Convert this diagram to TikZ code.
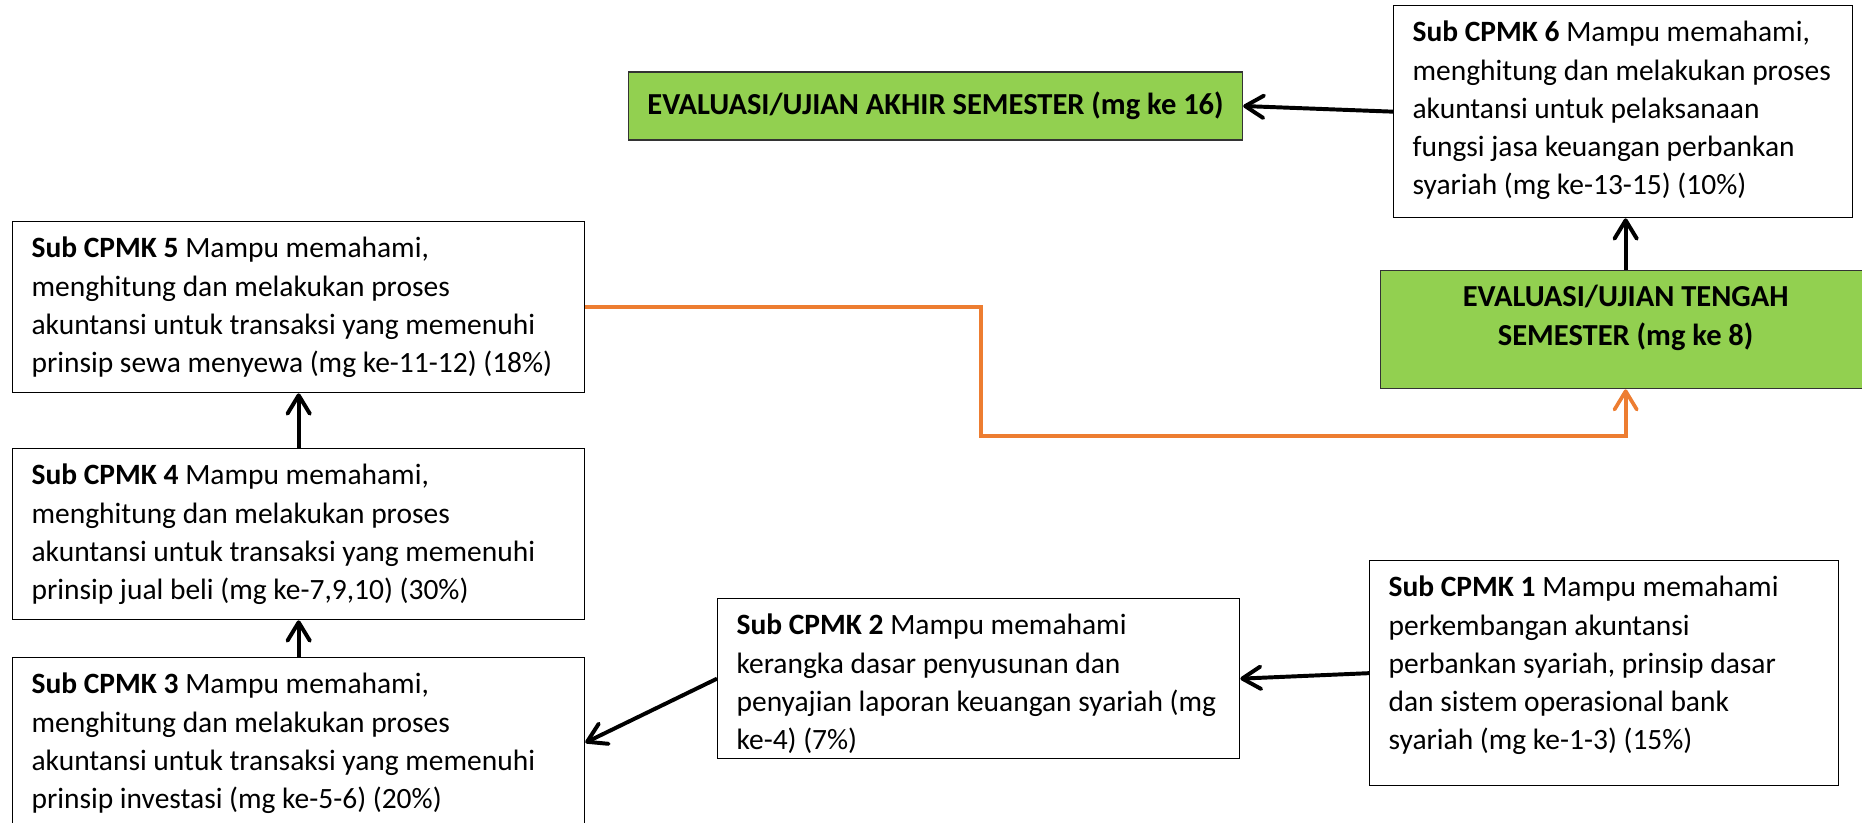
\documentclass[tikz,border=0pt]{standalone}
\usepackage{fontspec}
\setmainfont{Carlito}
\usetikzlibrary{arrows.meta}
\definecolor{ujiangreen}{RGB}{146,208,80}
\definecolor{utsorange}{RGB}{237,125,49}
\newlength\pxunit
\setlength\pxunit{0.38pt}
\newcommand{\boxtext}[4][\raggedright]{%
  \begin{minipage}[t][\dimexpr#3\pxunit-7.2pt\relax][t]{\dimexpr#2\pxunit-14.4pt\relax}#1\strut#4\end{minipage}}
\tikzset{
  cpmk/.style={draw, line width=0.5pt, anchor=north west, inner xsep=7.2pt, inner ysep=3.6pt,
    font=\fontsize{11.2}{14.5}\selectfont},
  ujian/.style={cpmk, fill=ujiangreen, draw=black!80, font=\fontsize{11.6}{14.5}\selectfont\bfseries},
  flow/.style={line width=1.5pt, -{Straight Barb[length=7pt,width=8.5pt,round]}}
}
\begin{document}
\begin{tikzpicture}[x=0.38pt, y=-0.38pt]
  \useasboundingbox (0,0) rectangle (1862,822);

  \node[cpmk] (cpmk1) at (1369,560) {\boxtext{469}{225}{\textbf{Sub CPMK 1} Mampu memahami\\
    perkembangan akuntansi\\ perbankan syariah, prinsip dasar\\ dan sistem operasional bank\\
    syariah (mg ke-1-3) (15\%)}};
  \node[cpmk] (cpmk2) at (717,598) {\boxtext{522}{160}{\textbf{Sub CPMK 2} Mampu memahami\\
    kerangka dasar penyusunan dan\\ penyajian laporan keuangan syariah (mg\\ ke-4) (7\%)}};
  \node[cpmk] (cpmk3) at (12,657) {\boxtext{572}{170}{\textbf{Sub CPMK 3} Mampu memahami,\\
    menghitung dan melakukan proses\\ akuntansi untuk transaksi yang memenuhi\\
    prinsip investasi (mg ke-5-6) (20\%)}};
  \node[cpmk] (cpmk4) at (12,448) {\boxtext{572}{171}{\textbf{Sub CPMK 4} Mampu memahami,\\
    menghitung dan melakukan proses\\ akuntansi untuk transaksi yang memenuhi\\
    prinsip jual beli (mg ke-7,9,10) (30\%)}};
  \node[cpmk] (cpmk5) at (12,221) {\boxtext{572}{171}{\textbf{Sub CPMK 5} Mampu memahami,\\
    menghitung dan melakukan proses\\ akuntansi untuk transaksi yang memenuhi\\
    prinsip sewa menyewa (mg ke-11-12) (18\%)}};
  \node[cpmk] (cpmk6) at (1393,5) {\boxtext{459}{212}{\textbf{Sub CPMK 6} Mampu memahami,\\
    menghitung dan melakukan proses\\ akuntansi untuk pelaksanaan\\ fungsi jasa keuangan perbankan\\
    syariah (mg ke-13-15) (10\%)}};

  \node[ujian] (uts) at (1380,270) {\boxtext[\centering]{490}{118}{EVALUASI/UJIAN TENGAH\\ SEMESTER (mg ke 8)}};
  \node[ujian, anchor=center, minimum width=607*0.38pt, minimum height=68*0.38pt] (uas) at (935.5,106)
    {EVALUASI/UJIAN AKHIR SEMESTER (mg ke 16)};

  \draw[flow] (cpmk1.west) -- (cpmk2.east);
  \draw[flow] (cpmk2.west) -- (cpmk3.east);
  \draw[flow] (cpmk3.north) -- (cpmk4.south);
  \draw[flow] (cpmk4.north) -- (cpmk5.south);
  \coordinate (turn) at (981,436);
  \draw[flow, line width=1.4pt, draw=utsorange] (cpmk5.east) -| (turn) -| (uts.south);
  \draw[flow] (uts.north) -- (uts.north |- cpmk6.south);
  \draw[flow] (cpmk6.west) -- (uas.east);
\end{tikzpicture}
\end{document}
